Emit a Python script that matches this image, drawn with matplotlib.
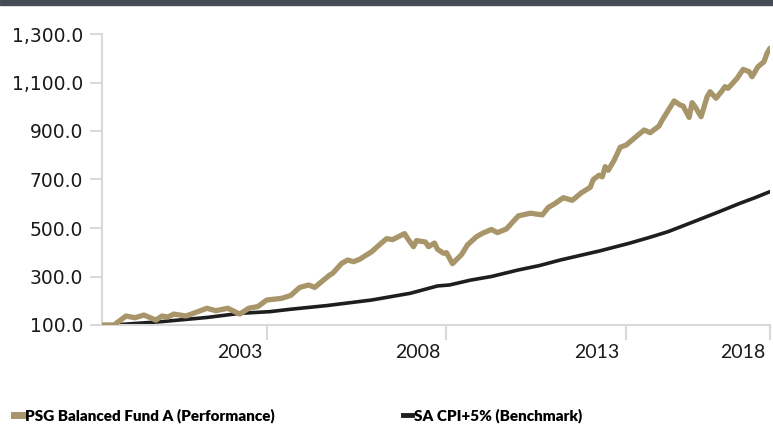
import matplotlib
matplotlib.use("Agg")
import matplotlib.pyplot as plt
from matplotlib.lines import Line2D
from matplotlib.ticker import FuncFormatter

# month index since start (Feb 1999) -> index value
fund_months = [0, 4, 8, 11, 14, 18, 20, 22, 24, 28, 32, 35, 38, 42, 46, 49, 52, 55,
               60, 63, 66, 69, 71, 76, 77, 80, 82, 84, 86, 90, 93, 95, 97, 101, 102,
               104, 105, 108, 109, 111, 112, 114, 115, 117, 120, 122, 125, 127, 130,
               132, 135, 139, 143, 147, 149, 151, 154, 157, 160, 163, 164, 166, 167,
               168, 169, 171, 173, 175, 179, 181, 183, 186, 187, 191, 193, 194, 196,
               197, 198, 200, 202, 203, 205, 207, 208, 209, 212, 214, 216, 217, 219,
               221, 222, 223]
fund_values = [100, 100, 137, 130, 141, 120, 137, 133, 145, 137, 155, 169, 159, 169,
               145, 169, 176, 203, 210, 222, 255, 265, 255, 306, 313, 354, 368, 361,
               371, 402, 435, 456, 452, 477, 457, 423, 448, 442, 423, 438, 412, 396,
               398, 353, 390, 430, 464, 478, 494, 481, 496, 550, 561, 554, 585, 599,
               625, 614, 645, 668, 700, 718, 711, 753, 738, 780, 833, 842, 884, 904,
               893, 921, 945, 1024, 1007, 1003, 956, 1017, 1000, 959, 1041, 1062, 1035,
               1066, 1083, 1076, 1117, 1154, 1145, 1124, 1165, 1186, 1220, 1241]

bench_months = [0, 5, 20, 35, 46, 56, 63, 75, 90, 103, 112, 116, 123, 130, 139, 146,
                153, 160, 166, 176, 183, 189, 199, 206, 213, 218, 223]
bench_values = [100, 101, 114, 131, 148, 155, 165, 180, 203, 231, 261, 265, 285, 300,
                327, 345, 368, 388, 405, 437, 462, 485, 533, 567, 602, 625, 650]

label_pos = [46, 105.5, 165.3, 214]
label_text = ["2003", "2008", "2013", "2018"]
tick_pos = [55, 115, 175, 223]

gold = "#a8966a"
dark = "#1e1e1e"
grey = "#d9d9d9"

fig = plt.figure(figsize=(7.73, 4.28), dpi=100)
fig.patches.append(plt.Rectangle((0, 1 - 5 / 428), 1, 5 / 428, transform=fig.transFigure,
                                 color="#474b55", zorder=0))
ax = fig.add_axes([102 / 773, 1 - 325 / 428, 668 / 773, 291 / 428])

ax.plot(bench_months, bench_values, color=dark, lw=2.6, solid_capstyle="round",
        solid_joinstyle="round", zorder=2)
ax.plot(fund_months, fund_values, color=gold, lw=3.8, solid_capstyle="round",
        solid_joinstyle="round", zorder=3)

ax.set_xlim(0, 223)
ax.set_ylim(100, 1300)
ax.set_yticks(range(100, 1301, 200))
ax.yaxis.set_major_formatter(FuncFormatter(lambda v, p: f"{v:,.1f}"))
ax.tick_params(axis="y", length=9, width=1.5, color=grey, pad=4.5, labelsize=13.5,
               labelcolor="#1a1a1a")

ax.set_xticks(tick_pos)
ax.set_xticklabels([])
ax.tick_params(axis="x", length=11, width=1.5, color=grey, direction="out")
for p, t in zip(label_pos, label_text):
    ax.text(p, -0.095, t, transform=ax.get_xaxis_transform(), ha="center", va="center",
            fontsize=14, family="Lato", color="#1a1a1a")

for s in ["top", "right"]:
    ax.spines[s].set_visible(False)
for s in ["left", "bottom"]:
    ax.spines[s].set_color(grey)
    ax.spines[s].set_linewidth(1.5)

handles = [Line2D([], [], color=gold, lw=5),
           Line2D([], [], color=dark, lw=3.5)]
fig.legend(handles, ["PSG Balanced Fund A (Performance)", "SA CPI+5% (Benchmark)"],
           loc="center left", bbox_to_anchor=(0.0, 1 - 416 / 428), ncol=2,
           frameon=False, handlelength=0.6, handletextpad=0.12, columnspacing=8.4,
           prop={"family": "Lato", "weight": "heavy", "size": 11})

fig.savefig("out.png", dpi=100, facecolor="white")
